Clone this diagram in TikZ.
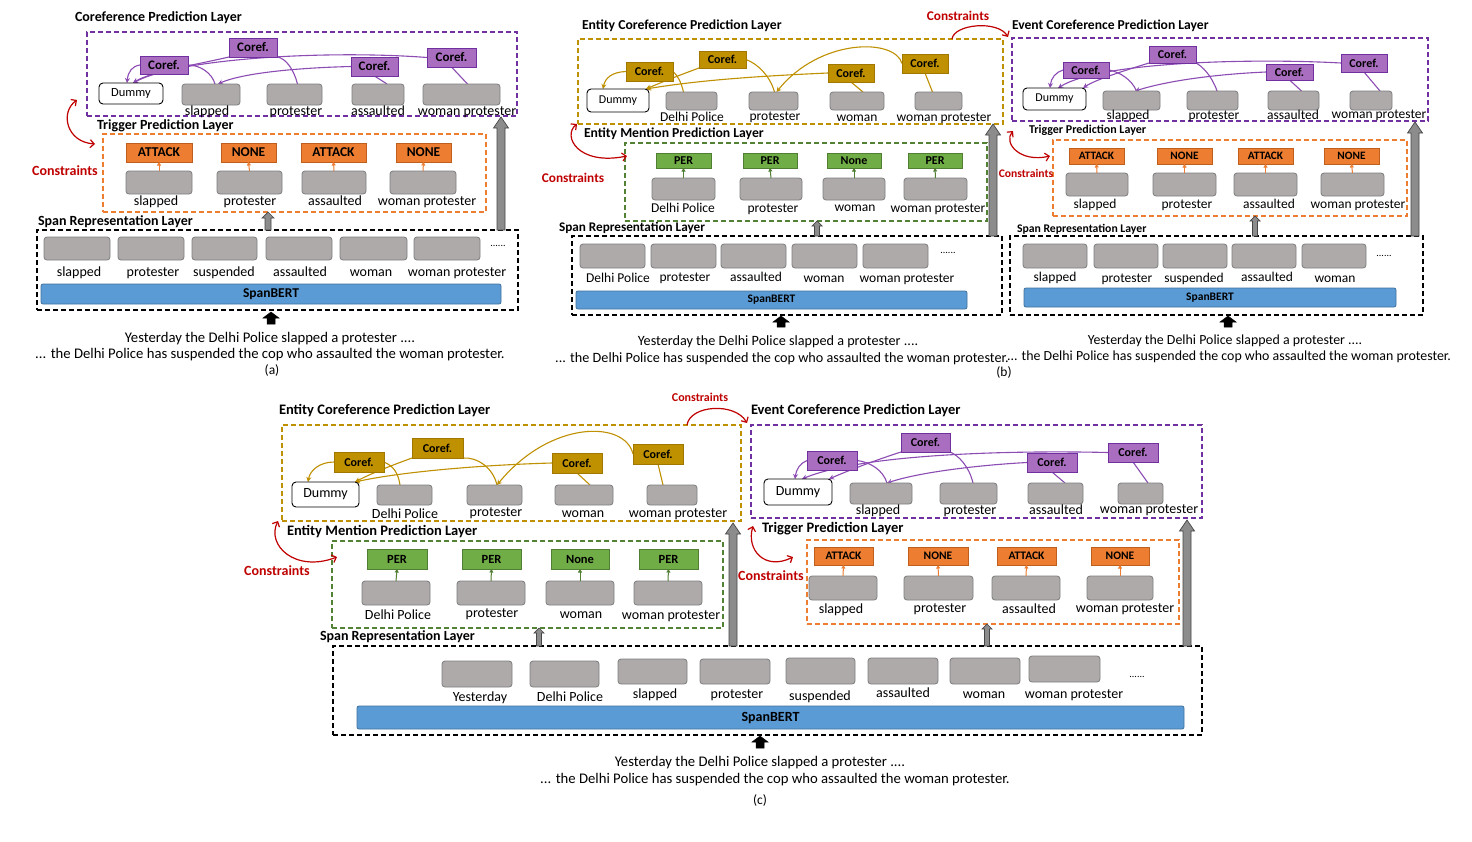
\documentclass[tikz,border=0pt]{standalone}
\usepackage{fontspec}
\setmainfont{Carlito}
\usetikzlibrary{arrows.meta}
\pgfdeclarelayer{bg}
\pgfsetlayers{bg,main}
\definecolor{pud}{RGB}{112,48,160}
\definecolor{puf}{RGB}{170,110,192}
\definecolor{pul}{RGB}{140,76,180}
\definecolor{god}{RGB}{160,120,0}
\definecolor{gof}{RGB}{191,144,0}
\definecolor{gol}{RGB}{191,144,0}
\definecolor{ord}{RGB}{190,95,30}
\definecolor{orf}{RGB}{237,125,49}
\definecolor{grd}{RGB}{80,126,50}
\definecolor{grf}{RGB}{112,173,71}
\definecolor{grb}{RGB}{84,130,53}
\definecolor{gbf}{RGB}{174,170,170}
\definecolor{gbd}{RGB}{125,125,125}
\definecolor{sbf}{RGB}{91,155,213}
\definecolor{sbd}{RGB}{65,113,156}
\definecolor{cred}{RGB}{192,0,0}
\definecolor{arrg}{RGB}{140,140,140}
\definecolor{arrd}{RGB}{70,70,70}
\newcommand\fz[1]{\fontsize{#1}{#1}\selectfont}
\newcommand\bx[7]{\node[#1,minimum width={#5-#3},minimum height={#6-#4}] (#2) at ({(#3+#5)/2},{(#4+#6)/2}) {#7};}
\newcommand\barr[7]{\draw[#1] ({#2-#5},#4) -- ({#2-#5},{#3+#7}) -- ({#2-#6},{#3+#7}) -- (#2,#3) -- ({#2+#6},{#3+#7}) -- ({#2+#5},{#3+#7}) -- ({#2+#5},#4) -- cycle;}
\tikzset{
 every node/.style={inner sep=0pt,outer sep=0pt},
 gb/.style={draw=gbd,fill=gbf,rounded corners=3pt,line width=0.8pt},
 dm/.style={draw=black,fill=white,rounded corners=4pt,line width=0.9pt,font=\fz{#1}},
 cpu/.style={draw=pud,fill=puf,line width=0.8pt,font=\bfseries\fz{#1}},
 cgo/.style={draw=god,fill=gof,line width=0.8pt,font=\bfseries\fz{#1}},
 lor/.style={draw=ord,fill=orf,line width=0.8pt,font=\bfseries\fz{#1}},
 lgr/.style={draw=grd,fill=grf,line width=0.8pt,font=\bfseries\fz{#1}},
 sb/.style={draw=sbd,fill=sbf,rounded corners=2pt,line width=0.8pt,font=\bfseries\fz{#1}},
 dpu/.style={draw=pud,line width=1.2pt,dash pattern=on 5pt off 3pt},
 dgo/.style={draw=gof,line width=1.4pt,dash pattern=on 5pt off 3pt},
 dor/.style={draw=orf,line width=1.2pt,dash pattern=on 5pt off 3pt},
 dgr/.style={draw=grb,line width=1.2pt,dash pattern=on 5pt off 3pt},
 dbk/.style={draw=black,line width=1.2pt,dash pattern=on 5pt off 3pt},
 ttl/.style={anchor=west,font=\bfseries\fz{#1}},
 cap/.style={font=\fz{#1},text height={0.7*#1},text depth={0.22*#1}},
 txt/.style={font=\fz{#1}},
 cst/.style={text=cred,font=\bfseries\fz{#1}},
 lpu/.style={draw=pul,line width=1.1pt},
 lgo/.style={draw=gol,line width=1.1pt},
 tip/.style={-{Stealth[length=5pt,width=5pt]}},
 oar/.style={draw=orf,line width=1pt,-{Triangle[length=3.5pt,width=4pt]}},
 gar/.style={draw=grd,line width=1pt,-{Triangle[length=3.5pt,width=4pt]}},
 con/.style={draw=cred,line width=1.2pt},
 ctip/.style={{Straight Barb[length=4pt,width=8pt]}-{Straight Barb[length=4pt,width=8pt]}},
 ctip1/.style={-{Straight Barb[length=4pt,width=8pt]}},
 ga/.style={fill=arrg,draw=arrd,line width=0.7pt},
 ba/.style={fill=black,draw=black,line width=0.5pt},
}
\begin{document}
\begin{tikzpicture}[x=1pt,y=-1pt]
\useasboundingbox (0,0) rectangle (1472,841);
\begin{pgfonlayer}{bg}\fill[white] (0,0) rectangle (1472,841);\end{pgfonlayer}
% ================= (a) =================
\node[ttl=14] (aT1) at (75,18) {Coreference Prediction Layer};
\bx{dpu}{aCB}{87}{32}{517}{116}{}
\bx{dm=12.5}{aD}{99}{83}{163}{104}{Dummy}
\bx{gb}{aS1}{182}{84}{240}{105}{}
\bx{gb}{aS2}{267}{84}{322}{105}{}
\bx{gb}{aS3}{352}{84}{404}{105}{}
\bx{gb}{aS4}{423}{84}{500}{105}{}
\node[cap=14] (aS1l) at (207,112) {slapped};
\node[cap=14] (aS2l) at (296,112) {protester};
\node[cap=14] (aS3l) at (378,112) {assaulted};
\node[cap=14] (aS4l) at (467,112) {woman protester};
\bx{cpu=13}{aC1}{140}{56}{188}{74}{Coref.}
\bx{cpu=13}{aC2}{229}{38}{277}{57}{Coref.}
\bx{cpu=13}{aC3}{351}{57}{398}{76}{Coref.}
\bx{cpu=13}{aC4}{427}{48}{476}{67}{Coref.}
\begin{pgfonlayer}{bg}
\draw[lpu] ([xshift=4]aS1.north) .. controls (212,73) and (200,65) .. (aC1.east);
\draw[lpu,tip] (aC1.west) .. controls (132,66) and (128,72) .. ([xshift=-4]aD.north);
\draw[lpu] ([xshift=3]aS2.north) .. controls (294,70) and (286,58) .. (aC2.south east);
\draw[lpu,tip] (aC2.south west) .. controls (190,66) and (150,72) .. ([xshift=2]aD.north);
\draw[lpu] ([xshift=9]aS3.north) -- (aC3.south);
\draw[lpu,tip] (aC3.west) .. controls (290,68) and (240,74) .. ([xshift=7]aS1.north);
\draw[lpu] ([xshift=6]aS4.north) -- (aC4.south);
\draw[lpu,tip] (aC4.west) .. controls (330,50) and (180,58) .. ([xshift=2]aD.north);
\end{pgfonlayer}
\node[ttl=14] (aT2) at (97,126) {Trigger Prediction Layer};
\bx{dor}{aTB}{103}{134}{486}{212}{}
\bx{lor=13.5}{aL1}{126}{143}{192}{162}{ATTACK}
\bx{lor=13.5}{aL2}{221}{143}{276}{162}{NONE}
\bx{lor=13.5}{aL3}{301}{143}{366}{162}{ATTACK}
\bx{lor=13.5}{aL4}{396}{143}{451}{162}{NONE}
\bx{gb}{aG1}{126}{171}{192}{194}{}
\bx{gb}{aG2}{217}{171}{282}{194}{}
\bx{gb}{aG3}{302}{171}{366}{194}{}
\bx{gb}{aG4}{390}{171}{456}{194}{}
\draw[oar] (aG1.north) -- (aL1.south);
\draw[oar] (aG2.north) -- (aL2.south);
\draw[oar] (aG3.north) -- (aL3.south);
\draw[oar] (aG4.north) -- (aL4.south);
\node[cap=14] (aG1l) at (156,202) {slapped};
\node[cap=14] (aG2l) at (250,202) {protester};
\node[cap=14] (aG3l) at (335,202) {assaulted};
\node[cap=14] (aG4l) at (427,202) {woman protester};
\node[cst=14] (aK) at (65,171) {Constraints};
\coordinate (aK1) at (77,100); \coordinate (aK2) at (95,144);
\draw[con,ctip] (aK1) .. controls (60,112) and (66,142) .. (aK2);
\node[ttl=14] (aT3) at (38,222) {Span Representation Layer};
\bx{dbk}{aSB}{37}{230}{518}{310}{}
\bx{gb}{aR1}{44}{237}{110}{260}{}
\bx{gb}{aR2}{118}{237}{184}{260}{}
\bx{gb}{aR3}{192}{237}{257}{260}{}
\bx{gb}{aR4}{266}{237}{332}{260}{}
\bx{gb}{aR5}{340}{237}{407}{260}{}
\bx{gb}{aR6}{414}{237}{480}{260}{}
\node[txt=10] (aRd) at (498,246) {......};
\node[cap=14] (aR1l) at (79,273) {slapped};
\node[cap=14] (aR2l) at (153,273) {protester};
\node[cap=14] (aR3l) at (224,273) {suspended};
\node[cap=14] (aR4l) at (300,273) {assaulted};
\node[cap=14] (aR5l) at (371,273) {woman};
\node[cap=14] (aR6l) at (457,273) {woman protester};
\bx{sb=13.5}{aBERT}{41}{284}{501}{304}{SpanBERT}
\barr{ga}{268}{212}{230}{3}{6}{6}
\barr{ga}{501}{117}{230}{4}{7.5}{11}
\barr{ba}{271}{312}{324}{4}{8}{6}
\node[cap=14.7] (aS1t) at (270,339) {Yesterday the Delhi Police slapped a protester ....};
\node[cap=14.7] (aS2t) at (270,355) {... the Delhi Police has suspended the cop who assaulted the woman protester.};
\node[cap=13.5] (aLab) at (272,371) {(a)};
% ================= (b) left =================
\node[ttl=13.7] (blT1) at (582,26) {Entity Coreference Prediction Layer};
\bx{dgo}{blCB}{578}{39}{1003}{124}{}
\bx{dm=12}{blD}{587}{89}{649}{112}{Dummy}
\bx{gb}{blS1}{666}{92}{717}{110}{}
\bx{gb}{blS2}{749}{92}{798}{110}{}
\bx{gb}{blS3}{830}{92}{884}{110}{}
\bx{gb}{blS4}{915}{92}{962}{110}{}
\node[cap=13.5] (blS1l) at (692,118) {Delhi Police};
\node[cap=13.5] (blS2l) at (775,117) {protester};
\node[cap=13.5] (blS3l) at (857,118) {woman};
\node[cap=13.5] (blS4l) at (944,118) {woman protester};
\bx{cgo=12}{blC1}{626}{62}{673}{81}{Coref.}
\bx{cgo=12}{blC2}{699}{51}{746}{68}{Coref.}
\bx{cgo=12}{blC3}{828}{64}{874}{82}{Coref.}
\bx{cgo=12}{blC4}{902}{54}{948}{73}{Coref.}
\begin{pgfonlayer}{bg}
\draw[lgo] ([xshift=-8]blS1.north) .. controls (681,82) and (678,76) .. (blC1.east);
\draw[lgo,tip] (blC1.west) .. controls (612,72) and (605,78) .. ([xshift=-15]blD.north);
\draw[lgo] ([xshift=1]blS2.north) .. controls (770,76) and (758,64) .. (blC2.east);
\draw[lgo,tip] (blC2.south west) .. controls (680,75) and (662,82) .. ([xshift=-3]blD.north east);
\draw[lgo] ([xshift=6]blS3.north) -- (blC3.south);
\draw[lgo,tip] (blC3.west) .. controls (760,76) and (700,80) .. ([xshift=-3]blD.north east);
\draw[lgo] ([xshift=-6]blS4.north) -- (blC4.south);
\draw[lgo,tip] (blC4.west) .. controls (895,38) and (820,38) .. ([xshift=3]blS2.north);
\end{pgfonlayer}
\node[cst=13.3] (blKt) at (958,16) {Constraints};
\coordinate (blK3) at (952,39); \coordinate (blK4) at (1008,37);
\draw[con,ctip1] (blK3) .. controls (954,24) and (998,20) .. (blK4);
\node[ttl=13.7] (blT2) at (584,134) {Entity Mention Prediction Layer};
\bx{dgr}{blMB}{625}{143}{987}{221}{}
\bx{lgr=12}{blL1}{656}{153}{711}{168}{PER}
\bx{lgr=12}{blL2}{743}{153}{797}{168}{PER}
\bx{lgr=12}{blL3}{827}{153}{881}{168}{None}
\bx{lgr=12}{blL4}{908}{153}{962}{168}{PER}
\bx{gb}{blG1}{652}{178}{715}{200}{}
\bx{gb}{blG2}{740}{178}{802}{200}{}
\bx{gb}{blG3}{823}{178}{885}{200}{}
\bx{gb}{blG4}{904}{178}{967}{200}{}
\draw[gar] (blG1.north) -- (blL1.south);
\draw[gar] (blG2.north) -- (blL2.south);
\draw[gar] (blG3.north) -- (blL3.south);
\draw[gar] (blG4.north) -- (blL4.south);
\node[cap=13.5] (blG1l) at (683,209) {Delhi Police};
\node[cap=13.5] (blG2l) at (773,209) {protester};
\node[cap=13.5] (blG3l) at (855,208) {woman};
\node[cap=13.5] (blG4l) at (938,209) {woman protester};
\node[cst=13.3] (blK) at (573,178) {Constraints};
\coordinate (blK1) at (577,124); \coordinate (blK2) at (627,156);
\draw[con,ctip] (blK1) .. controls (562,136) and (578,166) .. (blK2);
\node[ttl=13.2] (blT3) at (559,228) {Span Representation Layer};
\bx{dbk}{blSB}{572}{236}{1002}{315}{}
\bx{gb}{blR1}{580}{244}{645}{268}{}
\bx{gb}{blR2}{651}{244}{716}{268}{}
\bx{gb}{blR3}{721}{244}{786}{268}{}
\bx{gb}{blR4}{792}{244}{857}{268}{}
\bx{gb}{blR5}{863}{244}{928}{268}{}
\node[txt=10] (blRd) at (948,253) {......};
\node[cap=13.5] (blR1l) at (618,279) {Delhi Police};
\node[cap=13.5] (blR2l) at (685,278) {protester};
\node[cap=13.5] (blR3l) at (756,278) {assaulted};
\node[cap=13.5] (blR4l) at (824,279) {woman};
\node[cap=13.5] (blR5l) at (907,279) {woman protester};
\bx{sb=11.5}{blBERT}{576}{291}{967}{309}{SpanBERT}
\barr{ga}{817}{221}{236}{2.5}{5}{5}
\barr{ga}{993}{124}{236}{4}{7.5}{11}
\barr{ba}{781}{316}{327}{4}{8}{6}
\node[cap=14.2] (blS1t) at (778,342) {Yesterday the Delhi Police slapped a protester ....};
\node[cap=14.2] (blS2t) at (782,359) {... the Delhi Police has suspended the cop who assaulted the woman protester.};
\node[cap=13.5] (bLab) at (1004,373) {(b)};
% ================= (b) right =================
\node[ttl=13.6] (brT1) at (1012,26) {Event Coreference Prediction Layer};
\bx{dpu}{brCB}{1012}{38}{1428}{121}{}
\bx{dm=12}{brD}{1023}{88}{1086}{110}{Dummy}
\bx{gb}{brS1}{1103}{91}{1160}{110}{}
\bx{gb}{brS2}{1187}{91}{1238}{110}{}
\bx{gb}{brS3}{1268}{91}{1319}{110}{}
\bx{gb}{brS4}{1350}{91}{1392}{110}{}
\node[cap=13.5] (brS1l) at (1128,116) {slapped};
\node[cap=13.5] (brS2l) at (1214,116) {protester};
\node[cap=13.5] (brS3l) at (1293,116) {assaulted};
\node[cap=13.5] (brS4l) at (1379,115) {woman protester};
\bx{cpu=12}{brC1}{1063}{62}{1109}{78}{Coref.}
\bx{cpu=12}{brC2}{1149}{46}{1196}{63}{Coref.}
\bx{cpu=12}{brC3}{1266}{64}{1313}{80}{Coref.}
\bx{cpu=12}{brC4}{1341}{54}{1387}{72}{Coref.}
\begin{pgfonlayer}{bg}
\draw[lpu] ([xshift=5]brS1.north) .. controls (1132,80) and (1120,72) .. (brC1.east);
\draw[lpu,tip] (brC1.west) .. controls (1056,72) and (1051,78) .. ([xshift=-4.5]brD.north);
\draw[lpu] ([xshift=4.5]brS2.north) .. controls (1212,76) and (1202,66) .. (brC2.south east);
\draw[lpu,tip] (brC2.south west) .. controls (1120,72) and (1095,80) .. ([xshift=-3]brD.north east);
\draw[lpu] ([xshift=8]brS3.north) -- (brC3.south);
\draw[lpu,tip] (brC3.west) .. controls (1220,74) and (1170,80) .. ([xshift=3.5]brS1.north);
\draw[lpu] ([xshift=9]brS4.north) -- (brC4.south);
\draw[lpu,tip] (brC4.west) .. controls (1250,58) and (1100,62) .. ([xshift=3.5]brD.north);
\end{pgfonlayer}
\node[ttl=12] (brT2) at (1029,130) {Trigger Prediction Layer};
\bx{dor}{brTB}{1053}{140}{1407}{216}{}
\bx{lor=11.3}{brL1}{1069}{148}{1124}{164}{ATTACK}
\bx{lor=11.3}{brL2}{1157}{148}{1212}{164}{NONE}
\bx{lor=11.3}{brL3}{1238}{148}{1293}{164}{ATTACK}
\bx{lor=11.3}{brL4}{1324}{148}{1379}{164}{NONE}
\bx{gb}{brG1}{1066}{173}{1128}{196}{}
\bx{gb}{brG2}{1153}{173}{1216}{196}{}
\bx{gb}{brG3}{1234}{173}{1297}{196}{}
\bx{gb}{brG4}{1321}{173}{1384}{196}{}
\draw[oar] (brG1.north) -- (brL1.south);
\draw[oar] (brG2.north) -- (brL2.south);
\draw[oar] (brG3.north) -- (brL3.south);
\draw[oar] (brG4.north) -- (brL4.south);
\node[cap=13.5] (brG1l) at (1095,205) {slapped};
\node[cap=13.5] (brG2l) at (1187,205) {protester};
\node[cap=13.5] (brG3l) at (1269,205) {assaulted};
\node[cap=13.5] (brG4l) at (1358,205) {woman protester};
\node[cst=11.6] (brK) at (1026,173) {Constraints};
\coordinate (brK1) at (1013,131); \coordinate (brK2) at (1050,156);
\draw[con,ctip] (brK1) .. controls (1003,143) and (1020,163) .. (brK2);
\node[ttl=11.7] (brT3) at (1017,229) {Span Representation Layer};
\bx{dbk}{brSB}{1010}{236}{1423}{315}{}
\bx{gb}{brR1}{1023}{244}{1087}{268}{}
\bx{gb}{brR2}{1094}{244}{1158}{268}{}
\bx{gb}{brR3}{1163}{244}{1227}{268}{}
\bx{gb}{brR4}{1232}{244}{1296}{268}{}
\bx{gb}{brR5}{1302}{244}{1366}{268}{}
\node[txt=10] (brRd) at (1384,256) {......};
\node[cap=13.5] (brR1l) at (1055,278) {slapped};
\node[cap=13.5] (brR2l) at (1127,279) {protester};
\node[cap=13.5] (brR3l) at (1194,279) {suspended};
\node[cap=13.5] (brR4l) at (1267,278) {assaulted};
\node[cap=13.5] (brR5l) at (1335,279) {woman};
\bx{sb=11.5}{brBERT}{1024}{288}{1396}{307}{SpanBERT}
\barr{ga}{1255}{216}{236}{2.5}{5}{5}
\barr{ga}{1415}{122}{236}{4}{7.5}{11}
\barr{ba}{1228}{316}{327}{4}{8}{6}
\node[cap=13.9] (brS1t) at (1225,341) {Yesterday the Delhi Police slapped a protester ....};
\node[cap=13.9] (brS2t) at (1229,357) {... the Delhi Police has suspended the cop who assaulted the woman protester.};
% ================= (c) entity =================
\node[ttl=14.5] (ceT1) at (279,411) {Entity Coreference Prediction Layer};
\bx{dgo}{ceCB}{282}{425}{741}{521}{}
\bx{dm=14}{ceD}{292}{482}{359}{507}{Dummy}
\bx{gb}{ceS1}{377}{485}{432}{505}{}
\bx{gb}{ceS2}{467}{485}{522}{505}{}
\bx{gb}{ceS3}{555}{485}{613}{505}{}
\bx{gb}{ceS4}{647}{485}{697}{505}{}
\node[cap=14] (ceS1l) at (405,515) {Delhi Police};
\node[cap=14] (ceS2l) at (496,513) {protester};
\node[cap=14] (ceS3l) at (583,514) {woman};
\node[cap=14] (ceS4l) at (678,514) {woman protester};
\bx{cgo=12}{ceC1}{334}{452}{384}{472}{Coref.}
\bx{cgo=12}{ceC2}{412}{438}{463}{458}{Coref.}
\bx{cgo=12}{ceC3}{552}{453}{602}{473}{Coref.}
\bx{cgo=12}{ceC4}{633}{444}{683}{464}{Coref.}
\begin{pgfonlayer}{bg}
\draw[lgo] ([xshift=-4.5]ceS1.north) .. controls (398,472) and (393,466) .. (ceC1.east);
\draw[lgo,tip] (ceC1.west) .. controls (320,462) and (310,470) .. ([xshift=-17.5]ceD.north);
\draw[lgo] ([xshift=2.5]ceS2.north) .. controls (493,468) and (478,457) .. (ceC2.south east);
\draw[lgo,tip] (ceC2.south west) .. controls (390,466) and (370,474) .. ([xshift=-4]ceD.north east);
\draw[lgo] ([xshift=6]ceS3.north) -- (ceC3.south);
\draw[lgo,tip] (ceC3.west) .. controls (480,465) and (400,472) .. ([xshift=-4]ceD.north east);
\draw[lgo] ([xshift=-9]ceS4.north) -- (ceC4.south);
\draw[lgo,tip] (ceC4.west) .. controls (625,420) and (550,420) .. ([xshift=2.5]ceS2.north);
\end{pgfonlayer}
\node[cst=12] (ceKt) at (700,397) {Constraints};
\coordinate (ceK3) at (687,425); \coordinate (ceK4) at (747,423);
\draw[con,ctip1] (ceK3) .. controls (690,405) and (735,402) .. (ceK4);
\node[ttl=14.5] (ceT2) at (287,532) {Entity Mention Prediction Layer};
\bx{dgr}{ceMB}{332}{541}{723}{628}{}
\bx{lgr=12.5}{ceL1}{367}{549}{427}{569}{PER}
\bx{lgr=12.5}{ceL2}{462}{549}{521}{569}{PER}
\bx{lgr=12.5}{ceL3}{551}{549}{609}{569}{None}
\bx{lgr=12.5}{ceL4}{639}{549}{698}{569}{PER}
\bx{gb}{ceG1}{362}{581}{430}{605}{}
\bx{gb}{ceG2}{457}{581}{525}{605}{}
\bx{gb}{ceG3}{546}{581}{614}{605}{}
\bx{gb}{ceG4}{634}{581}{702}{605}{}
\draw[gar] (ceG1.north) -- (ceL1.south);
\draw[gar] (ceG2.north) -- (ceL2.south);
\draw[gar] (ceG3.north) -- (ceL3.south);
\draw[gar] (ceG4.north) -- (ceL4.south);
\node[cap=14] (ceG1l) at (398,616) {Delhi Police};
\node[cap=14] (ceG2l) at (492,614) {protester};
\node[cap=14] (ceG3l) at (581,615) {woman};
\node[cap=14] (ceG4l) at (671,616) {woman protester};
\node[cst=14] (ceK) at (277,571) {Constraints};
\coordinate (ceK1) at (278,521); \coordinate (ceK2) at (337,557);
\draw[con,ctip] (ceK1) .. controls (266,545) and (295,573) .. (ceK2);
% ================= (c) event =================
\node[ttl=14.5] (cvT1) at (751,411) {Event Coreference Prediction Layer};
\bx{dpu}{cvCB}{751}{425}{1202}{518}{}
\bx{dm=14}{cvD}{764}{479}{832}{505}{Dummy}
\bx{gb}{cvS1}{850}{483}{912}{504}{}
\bx{gb}{cvS2}{940}{483}{997}{504}{}
\bx{gb}{cvS3}{1028}{483}{1083}{504}{}
\bx{gb}{cvS4}{1118}{483}{1163}{504}{}
\node[cap=14] (cvS1l) at (878,511) {slapped};
\node[cap=14] (cvS2l) at (970,511) {protester};
\node[cap=14] (cvS3l) at (1056,511) {assaulted};
\node[cap=14] (cvS4l) at (1149,510) {woman protester};
\bx{cpu=12}{cvC1}{807}{451}{857}{470}{Coref.}
\bx{cpu=12}{cvC2}{901}{433}{950}{452}{Coref.}
\bx{cpu=12}{cvC3}{1027}{453}{1077}{472}{Coref.}
\bx{cpu=12}{cvC4}{1108}{443}{1158}{462}{Coref.}
\begin{pgfonlayer}{bg}
\draw[lpu] ([xshift=6]cvS1.north) .. controls (883,470) and (870,462) .. (cvC1.east);
\draw[lpu,tip] (cvC1.west) .. controls (800,463) and (796,470) .. ([xshift=-3]cvD.north);
\draw[lpu] ([xshift=4.5]cvS2.north) .. controls (969,466) and (958,455) .. (cvC2.south east);
\draw[lpu,tip] (cvC2.south west) .. controls (870,462) and (845,472) .. ([xshift=-3]cvD.north east);
\draw[lpu] ([xshift=9.5]cvS3.north) -- (cvC3.south);
\draw[lpu,tip] (cvC3.west) .. controls (980,465) and (920,472) .. ([xshift=6]cvS1.north);
\draw[lpu] ([xshift=7.5]cvS4.north) -- (cvC4.south);
\draw[lpu,tip] (cvC4.west) .. controls (1000,450) and (860,455) .. ([xshift=4]cvD.north);
\end{pgfonlayer}
\node[ttl=14.5] (cvT2) at (762,529) {Trigger Prediction Layer};
\bx{dor}{cvTB}{807}{540}{1179}{624}{}
\bx{lor=11.5}{cvL1}{814}{547}{873}{565}{ATTACK}
\bx{lor=11.5}{cvL2}{908}{547}{968}{565}{NONE}
\bx{lor=11.5}{cvL3}{997}{547}{1056}{565}{ATTACK}
\bx{lor=11.5}{cvL4}{1091}{547}{1149}{565}{NONE}
\bx{gb}{cvG1}{809}{576}{877}{600}{}
\bx{gb}{cvG2}{904}{576}{973}{600}{}
\bx{gb}{cvG3}{992}{576}{1060}{600}{}
\bx{gb}{cvG4}{1087}{576}{1153}{600}{}
\draw[oar] (cvG1.north) -- (cvL1.south);
\draw[oar] (cvG2.north) -- (cvL2.south);
\draw[oar] (cvG3.north) -- (cvL3.south);
\draw[oar] (cvG4.north) -- (cvL4.south);
\node[cap=14] (cvG1l) at (841,610) {slapped};
\node[cap=14] (cvG2l) at (940,609) {protester};
\node[cap=14] (cvG3l) at (1029,610) {assaulted};
\node[cap=14] (cvG4l) at (1125,609) {woman protester};
\node[cst=14] (cvK) at (771,576) {Constraints};
\coordinate (cvK1) at (753,526); \coordinate (cvK2) at (793,557);
\draw[con,ctip] (cvK1) .. controls (746,550) and (765,571) .. (cvK2);
% ================= (c) span =================
\node[ttl=14] (csT) at (320,637) {Span Representation Layer};
\bx{dbk}{csSB}{333}{646}{1202}{735}{}
\bx{gb}{csR1}{442}{661}{512}{687}{}
\bx{gb}{csR2}{530}{661}{599}{687}{}
\bx{gb}{csR3}{618}{659}{687}{684}{}
\bx{gb}{csR4}{700}{659}{770}{684}{}
\bx{gb}{csR5}{786}{658}{855}{684}{}
\bx{gb}{csR6}{868}{658}{938}{684}{}
\bx{gb}{csR7}{950}{658}{1020}{684}{}
\bx{gb}{csR8}{1029}{656}{1100}{682}{}
\node[txt=10] (csRd) at (1137,677) {......};
\node[cap=14] (csR1l) at (480,698) {Yesterday};
\node[cap=14] (csR2l) at (570,698) {Delhi Police};
\node[cap=14] (csR3l) at (655,695) {slapped};
\node[cap=14] (csR4l) at (737,695) {protester};
\node[cap=14] (csR5l) at (820,697) {suspended};
\node[cap=14] (csR6l) at (903,694) {assaulted};
\node[cap=14] (csR7l) at (984,695) {woman};
\node[cap=14] (csR8l) at (1074,695) {woman protester};
\bx{sb=14}{csBERT}{357}{706}{1184}{729}{SpanBERT}
\barr{ga}{539}{628}{646}{2.5}{5}{5}
\barr{ga}{733}{523}{646}{4}{7.5}{11}
\barr{ga}{987}{624}{646}{2.5}{5}{5}
\barr{ga}{1187}{520}{646}{4}{7.5}{11}
\barr{ba}{760}{736}{748}{4}{8}{6}
\node[cap=14.7] (csS1t) at (760,763) {Yesterday the Delhi Police slapped a protester ....};
\node[cap=14.7] (csS2t) at (775,780) {... the Delhi Police has suspended the cop who assaulted the woman protester.};
\node[cap=13.5] (cLab) at (760,801) {(c)};
\end{tikzpicture}
\end{document}
